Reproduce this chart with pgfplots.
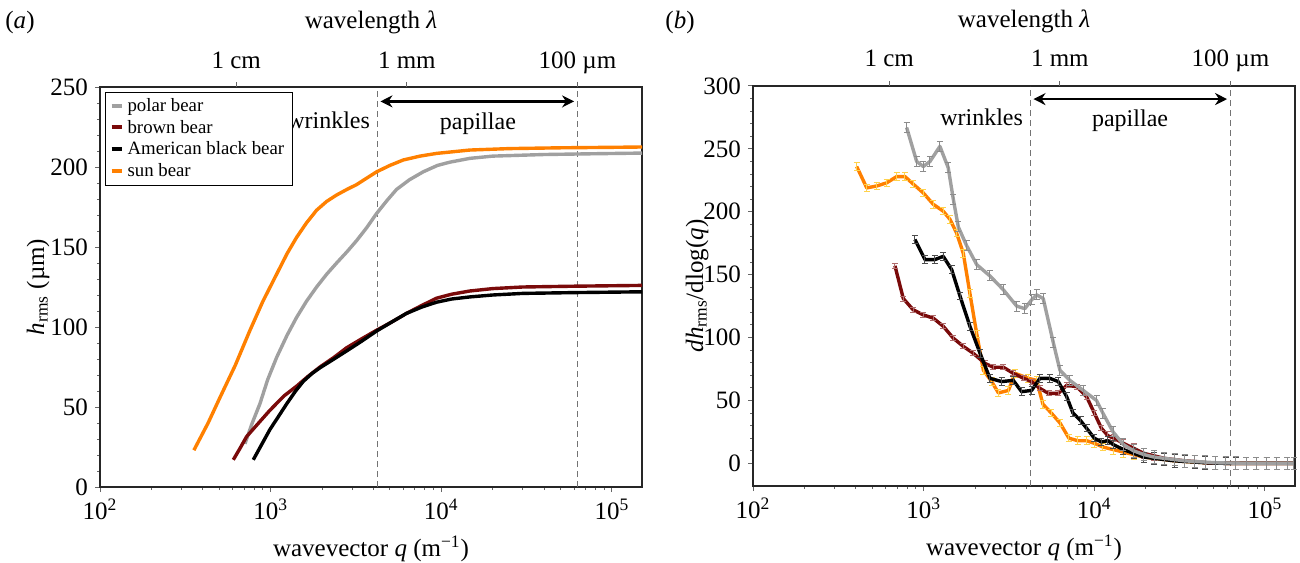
\documentclass[border=0pt]{standalone}
\usepackage{fontspec}
\setmainfont{Liberation Serif}
\usepackage{pgfplots}
\pgfplotsset{compat=1.18}
\usepackage{pgfplotstable}
\usetikzlibrary{arrows.meta}
\definecolor{pgrey}{HTML}{A0A0A0}
\definecolor{pbrown}{HTML}{7A0A0A}
\definecolor{porange}{HTML}{FF8000}
\definecolor{pblack}{HTML}{000000}

% ---------- panel (a): cumulative h_rms ----------
\pgfplotstableread{
q h
355 23
430 40
505 56
620 76
757 98
900 116
1084 133
1250 146
1419 156
1620 165
1859 173
2130 178.5
2435 182.5
2800 186
3190 189
3650 193
4180 197
5000 201
5990 204.4
7500 206.8
9380 208.5
14700 210.6
25000 211.5
50000 212
100000 212.3
150000 212.5
}\aOrange
\pgfplotstableread{
q h
707 27
780 40
865 52
960 67
1084 81
1250 95
1419 106
1620 116
1859 125
2130 133
2435 140
2800 147
3190 154
3650 162
4180 171
4800 179
5470 186
6500 192
7840 197
9500 201
11200 203
14700 205.4
20000 206.8
40000 207.8
80000 208.3
150000 208.7
}\aGrey
\pgfplotstableread{
q h
604 17
660 24
723 31.5
850 40
991 48
1200 57
1419 63
1650 69
1945 75
2350 81
2785 87
3400 92.5
4180 98
5100 103
6250 108.5
7700 113.5
9380 118
11500 120.5
14700 122.5
20000 124
30000 125
60000 125.5
150000 126
}\aBrown
\pgfplotstableread{
q h
791 17
880 26
991 36
1110 44
1242 52
1400 60
1553 66
1750 71
1945 74.5
2350 80
2785 85
3400 91
4180 97.5
5100 103
6250 108.5
7700 112.5
9380 115.5
11500 117.5
14700 118.8
20000 120
30000 121
60000 121.5
150000 122
}\aBlack

% ---------- panel (b): dh_rms/dlog(q) ----------
\pgfplotstableread{
q v e
795 267 4
910 240 4
995 236 4
1089 240 4
1245 252 4
1393 235 4
1492 210 4
1596 188 4
1787 173 4
2046 158 4
2445 149 4
2930 138 4
3510 125 4
3920 123 4
4290 130 4
4590 134 4
5020 131 4
5750 96 4
6290 74 4
7190 66 4
8610 58 4
10300 50 4
11220 40 4
12880 25 4
14790 15 5
16980 10 5
19500 7 5
22390 5 5
25700 4 5
29510 3 5
33880 2 5
38900 1.5 5
44670 1 5
51290 0.5 5
58880 0.3 5
67610 0.2 5
77620 0 5
89130 0 5
102300 0 5
117500 0 5
134900 0 5
147900 0 5
}\bGrey
\pgfplotstableread{
q v e
405 236 3
464 219 3
531 220.5 3
607 223 3
695 228 3
777 228 3
869 222 3
995 215 3
1137 206 3
1302 200.5 3
1426 194 3
1561 183 3
1707 167 3
1867 135 3
2046 103 3
2239 74 3
2505 65 3
2742 56 3
3140 58 3
3430 71.6 3
4110 67.6 3
4590 66 3
5000 47 3
5600 40 3
6300 32 3
7100 20 3
8000 18 3
9000 18 3
10000 16 3
11220 13 3
12880 11 4
14790 9 4
16980 7 4
19500 5 4
22390 4 5
25700 3 5
29510 2 5
33880 1.5 5
38900 1 5
44670 0.5 5
51290 0.3 5
58880 0 5
67610 0 5
77620 0 5
89130 0 5
102300 0 5
117500 0 5
134900 0 5
147900 0 5
}\bOrange
\pgfplotstableread{
q v e
889 178 3
1018 162 3
1165 162 3
1302 164.6 3
1460 154 3
1633 133 3
1867 109 3
2140 87.5 3
2445 67.6 3
2866 65 3
3350 66 3
3750 57 3
4290 58 3
4800 67.6 3
5490 67.6 3
6150 65 3
6890 53 3
7500 40 3
8300 34 3
9000 28 3
10000 20 3
11000 17 3
12000 18 3
12880 15 3
14790 11 4
16980 8 4
19500 5 4
22390 4 5
25700 3 5
29510 2 5
33880 1.5 5
38900 1 5
44670 0.5 5
51290 0.2 5
58880 0 5
67610 0 5
77620 0 5
89130 0 5
102300 0 5
117500 0 5
134900 0 5
147900 0 5
}\bBlack
\pgfplotstableread{
q v e
679 157 2
760 131 2
869 122 2
995 118 2
1137 115.5 2
1302 109 2
1492 99.5 2
1707 93 2
1954 87.5 2
2287 79.5 2
2557 76.4 2
2930 76.4 2
3350 71.6 2
3850 67.6 2
4290 65 2
4800 59.6 2
5390 55.6 2
6150 55.6 2
6890 62 2
7870 61 2
9010 53 2
10000 40 2
11000 28 2
12000 22 3
13000 20 3
14790 16 3
16980 12 4
19500 8 4
22390 6 4
25700 4 5
29510 3 5
33880 2 5
38900 1.5 5
44670 0.5 5
51290 0.2 5
58880 0 5
67610 0 5
77620 0 5
89130 0 5
102300 0 5
117500 0 5
134900 0 5
147900 0 5
}\bBrown

\begin{document}
\begin{tikzpicture}
\useasboundingbox (0pt,0pt) rectangle (650pt,281pt);

% ================= panel (a) =================
\begin{axis}[
  xmode=log, xmin=100, xmax=150000,
  scale only axis, width=271pt, height=200pt,
  at={(50pt,37.5pt)}, anchor=south west,
  clip=false,
  tick align=outside,
  major tick length=2.5pt, minor tick length=1.5pt,
  every tick/.style={black!60, line width=0.5pt},
  axis line style={line width=0.9pt, black!85},
  tick label style={font=\fontsize{12.5}{14}\selectfont},
  label style={font=\fontsize{12.5}{14}\selectfont},
  xtick={100,1000,10000,100000},
  xticklabels={10\textsuperscript{2},10\textsuperscript{3},10\textsuperscript{4},10\textsuperscript{5}},
  minor xtick={200,300,400,500,600,700,800,900,2000,3000,4000,5000,6000,7000,8000,9000,20000,30000,40000,50000,60000,70000,80000,90000},
  xtick pos=bottom, ytick pos=left,
  minor y tick num=4,
  xlabel={wavevector \textit{q} (m\textsuperscript{−1})},
  x label style={at={(axis description cs:0.5,-0.155)}, anchor=center},
  ymin=0, ymax=250, ytick={0,50,100,150,200,250},
  yticklabels={0,50,100,150,200,250},
  ylabel={\textit{h}\textsubscript{rms} (µm)},
  y label style={at={(axis description cs:-0.1144,0.5)}, rotate=0, anchor=center},
  legend cell align=left,
  legend style={at={(0.0092,0.9875)}, anchor=north west,
    font=\fontsize{9.4}{10}\selectfont, draw=black, line width=0.6pt,
    inner xsep=2pt, inner ysep=1pt, row sep=-1.2pt},
  legend image code/.code={\draw[#1, line width=2pt] (0pt,0.5pt) -- (5pt,0.5pt);},
]
\draw[densely dashed, black!55, line width=0.5pt] (axis cs:4200,0) -- (axis cs:4200,250);
\draw[densely dashed, black!55, line width=0.5pt] (axis cs:62832,0) -- (axis cs:62832,250);
\addplot[pgrey, line width=1.7pt, line join=round] table[x=q, y=h] {\aGrey};
\addlegendentry{polar bear}
\addplot[pbrown, line width=1.7pt, line join=round] table[x=q, y=h] {\aBrown};
\addlegendentry{brown bear}
\addplot[pblack, line width=1.7pt, line join=round] table[x=q, y=h] {\aBlack};
\addlegendentry{American black bear}
\addplot[porange, line width=1.7pt, line join=round] table[x=q, y=h] {\aOrange};
\addlegendentry{sun bear}
\draw[{Stealth[length=6pt,width=6pt]}-{Stealth[length=6pt,width=6pt]}, line width=1.3pt]
  (axis cs:4400,241) -- (axis cs:60000,241);
\node[anchor=east, font=\fontsize{12}{14}\selectfont] at (axis cs:4200,229) {wrinkles};
\node[font=\fontsize{12}{14}\selectfont] at (axis cs:16400,227) {papillae};
\draw[black!60, line width=0.5pt] (axis cs:628.3,250) -- ++(0pt,2.5pt);
\draw[black!60, line width=0.5pt] (axis cs:6283,250) -- ++(0pt,2.5pt);
\draw[black!60, line width=0.5pt] (axis cs:62832,250) -- ++(0pt,2.5pt);
\node[anchor=base, font=\fontsize{12.5}{14}\selectfont] at ([yshift=9.5pt]axis cs:628.3,250) {1 cm};
\node[anchor=base, font=\fontsize{12.5}{14}\selectfont] at ([yshift=9.5pt]axis cs:6283,250) {1 mm};
\node[anchor=base, font=\fontsize{12.5}{14}\selectfont] at ([yshift=9.5pt]axis cs:62832,250) {100 µm};
\node[font=\fontsize{12.5}{14}\selectfont] at ([yshift=32.5pt]axis description cs:0.5,1) {wavelength \textit{λ}};
\end{axis}
\node[font=\fontsize{12.5}{14}\selectfont] at (10pt,270pt) {(\textit{a})};

% ================= panel (b) =================
\begin{axis}[
  xmode=log, xmin=100, xmax=150000,
  scale only axis, width=271pt, height=200pt,
  at={(376.5pt,38pt)}, anchor=south west,
  clip=false,
  tick align=outside,
  major tick length=2.5pt, minor tick length=1.5pt,
  every tick/.style={black!60, line width=0.5pt},
  axis line style={line width=0.9pt, black!85},
  tick label style={font=\fontsize{12.5}{14}\selectfont},
  label style={font=\fontsize{12.5}{14}\selectfont},
  xtick={100,1000,10000,100000},
  xticklabels={10\textsuperscript{2},10\textsuperscript{3},10\textsuperscript{4},10\textsuperscript{5}},
  minor xtick={200,300,400,500,600,700,800,900,2000,3000,4000,5000,6000,7000,8000,9000,20000,30000,40000,50000,60000,70000,80000,90000},
  xtick pos=bottom, ytick pos=left,
  minor y tick num=4,
  xlabel={wavevector \textit{q} (m\textsuperscript{−1})},
  x label style={at={(axis description cs:0.5,-0.155)}, anchor=center},
  ymin=-18, ymax=300, ytick={0,50,100,150,200,250,300},
  yticklabels={0,50,100,150,200,250,300},
  ylabel={\textit{dh}\textsubscript{rms}/dlog(\textit{q})},
  y label style={at={(axis description cs:-0.1033,0.5)}, rotate=0, anchor=center},
]
\draw[densely dashed, black!55, line width=0.5pt] (axis cs:4200,-18) -- (axis cs:4200,300);
\draw[densely dashed, black!55, line width=0.5pt] (axis cs:62832,-18) -- (axis cs:62832,300);
\addplot[porange, line width=1.7pt, line join=round, error bars/.cd, y dir=both, y explicit,
  error bar style={line width=0.5pt, color=orange!50!yellow!70},
  error mark options={rotate=90, mark size=1.5pt, line width=0.5pt, color=orange!50!yellow!70}]
  table[x=q, y=v, y error=e] {\bOrange};
\addplot[pbrown, line width=1.7pt, line join=round, error bars/.cd, y dir=both, y explicit,
  error bar style={line width=0.5pt, color=pbrown!60},
  error mark options={rotate=90, mark size=1.5pt, line width=0.5pt, color=pbrown!60}]
  table[x=q, y=v, y error=e] {\bBrown};
\addplot[pblack, line width=1.7pt, line join=round, error bars/.cd, y dir=both, y explicit,
  error bar style={line width=0.5pt, color=black!70},
  error mark options={rotate=90, mark size=1.5pt, line width=0.5pt, color=black!70}]
  table[x=q, y=v, y error=e] {\bBlack};
\addplot[pgrey, line width=1.7pt, line join=round, error bars/.cd, y dir=both, y explicit,
  error bar style={line width=0.5pt, color=black!45},
  error mark options={rotate=90, mark size=1.5pt, line width=0.5pt, color=black!45}]
  table[x=q, y=v, y error=e] {\bGrey};
\draw[{Stealth[length=6pt,width=6pt]}-{Stealth[length=6pt,width=6pt]}, line width=1.3pt]
  (axis cs:4400,289.6) -- (axis cs:60000,289.6);
\node[anchor=east, font=\fontsize{12}{14}\selectfont] at (axis cs:4200,275) {wrinkles};
\node[font=\fontsize{12}{14}\selectfont] at (axis cs:16200,272) {papillae};
\draw[black!60, line width=0.5pt] (axis cs:628.3,300) -- ++(0pt,2.5pt);
\draw[black!60, line width=0.5pt] (axis cs:6283,300) -- ++(0pt,2.5pt);
\draw[black!60, line width=0.5pt] (axis cs:62832,300) -- ++(0pt,2.5pt);
\node[anchor=base, font=\fontsize{12.5}{14}\selectfont] at ([yshift=9.5pt]axis cs:628.3,300) {1 cm};
\node[anchor=base, font=\fontsize{12.5}{14}\selectfont] at ([yshift=9.5pt]axis cs:6283,300) {1 mm};
\node[anchor=base, font=\fontsize{12.5}{14}\selectfont] at ([yshift=9.5pt]axis cs:62832,300) {100 µm};
\node[font=\fontsize{12.5}{14}\selectfont] at ([yshift=32.5pt]axis description cs:0.5,1) {wavelength \textit{λ}};
\end{axis}
\node[font=\fontsize{12.5}{14}\selectfont] at (340pt,270pt) {(\textit{b})};
\end{tikzpicture}
\end{document}
